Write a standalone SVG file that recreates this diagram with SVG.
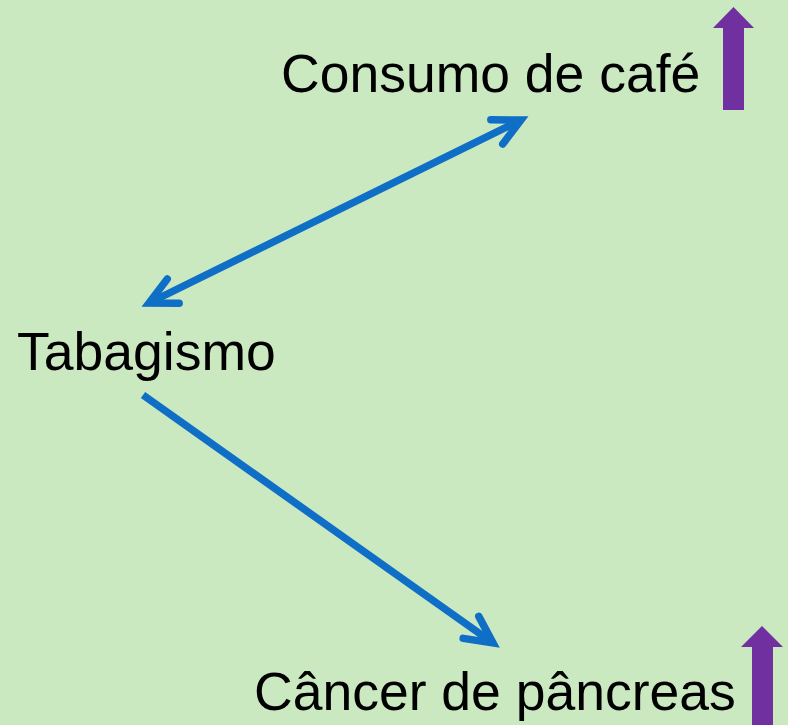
<svg xmlns="http://www.w3.org/2000/svg" width="788" height="725" viewBox="0 0 788 725">
<defs>
<style>
.lbl{font-family:"Liberation Sans",Arial,sans-serif;font-size:53.5px;fill:#000}
.conn{stroke:#0F6FC6;stroke-width:7.5;fill:none}
.up{fill:#7030A0}
</style>
<marker id="head" viewBox="-34 -20 40 40" markerWidth="40" markerHeight="40" refX="0" refY="0" markerUnits="userSpaceOnUse" orient="auto-start-reverse" overflow="visible">
<path d="M-27,-13.5 L0,0 L-27,13.5" fill="none" stroke="#0F6FC6" stroke-width="7.5" stroke-linecap="round" stroke-linejoin="miter"/>
</marker>
</defs>
<rect width="788" height="725" fill="#CBE9C1"/>
<g id="connectors">
<line class="conn" x1="149" y1="303" x2="521" y2="120" marker-start="url(#head)" marker-end="url(#head)"/>
<line class="conn" x1="143" y1="395" x2="493" y2="643" marker-end="url(#head)"/>
</g>
<g id="node-cafe">
<text class="lbl" x="281" y="92">Consumo de café</text>
<polygon class="up" points="723,110 723,28 713,28 733.5,7 754,28 744,28 744,110"/>
</g>
<g id="node-tabagismo">
<text class="lbl" x="17" y="370">Tabagismo</text>
</g>
<g id="node-cancer">
<text class="lbl" x="254" y="710">Câncer de pâncreas</text>
<polygon class="up" points="752,725 752,647 741,647 762,626 783,647 773,647 773,725"/>
</g>
</svg>
